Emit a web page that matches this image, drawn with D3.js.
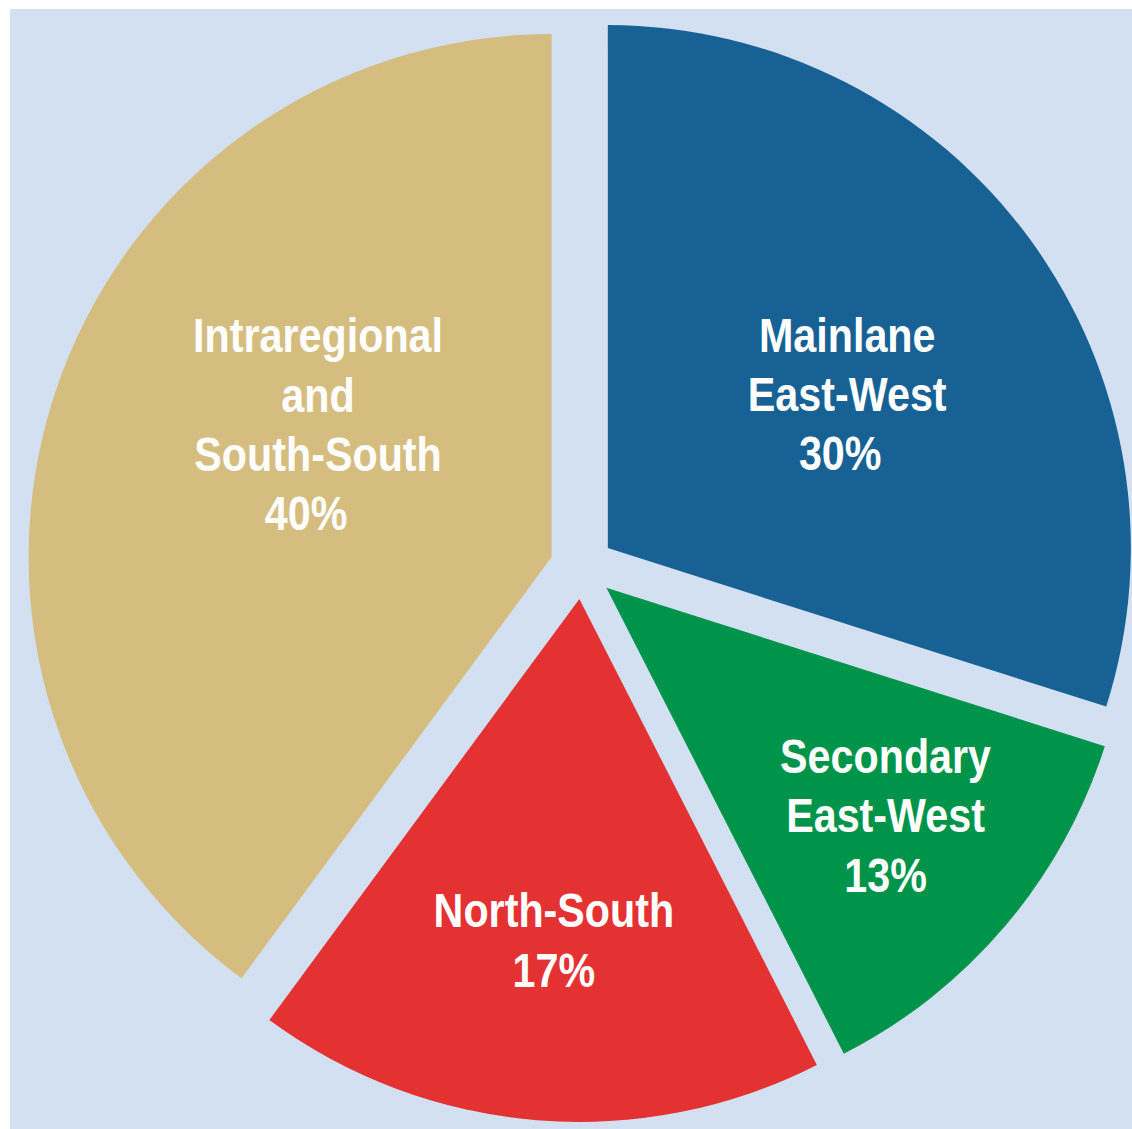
<!DOCTYPE html>
<html>
<head>
<meta charset="utf-8">
<script src="https://cdn.jsdelivr.net/npm/d3@7/dist/d3.min.js"></script>
<style>
  html, body { margin: 0; padding: 0; background: #ffffff; }
  svg { display: block; }
  .lbl { font-family: "Liberation Sans", Arial, sans-serif; font-weight: 700; fill: #ffffff; }
</style>
</head>
<body>
<div id="chart"></div>
<script>
// ---- data ----
const categories = ["Mainlane East-West", "Secondary East-West", "North-South", "Intraregional and South-South"];
const labelLines = [["Mainlane", "East-West"], ["Secondary", "East-West"], ["North-South"], ["Intraregional", "and", "South-South"]];
const values = [29.9, 12.6, 17.6, 39.9];
// percentages as printed on the chart
const pctLabels = ["30%", "13%", "17%", "40%"];
const colors = ["#176195", "#00944a", "#e43132", "#d5bd7f"];

// ---- layout ----
const W = 1132, H = 1129;
const cx = 582, cy = 567, R = 523, explode = 32;
const fontSize = 48, lineH = 59.3, capH = 35, condense = 0.86;
// label placement per slice: angular shift (deg) from bisector, radius factor (from exploded apex),
// and a small horizontal nudge for the percentage line
const labelPlace = [
  {da: 3.3, k: 0.545, pctDx: -7},
  {da: -1.2, k: 0.688, pctDx: 0},
  {da: -0.4, k: 0.653, pctDx: 0},
  {da: 11.5, k: 0.514, pctDx: -12}
];

const svg = d3.select("#chart").append("svg").attr("width", W).attr("height", H);
svg.append("rect").attr("x", 10).attr("y", 9).attr("width", W - 10).attr("height", H - 9).attr("fill", "#d3e0f2");

const pie = d3.pie().sort(null).value(d => d)(values);
const arc = d3.arc().innerRadius(0).outerRadius(R);

const g = svg.append("g").attr("transform", `translate(${cx},${cy})`);

const slices = g.selectAll("g.slice").data(pie).join("g")
  .attr("class", "slice")
  .attr("transform", d => {
    const a = (d.startAngle + d.endAngle) / 2;
    return `translate(${explode * Math.sin(a)},${-explode * Math.cos(a)})`;
  });

slices.append("path").attr("d", arc).attr("fill", (d, i) => colors[i]);

slices.each(function(d, i) {
  const p = labelPlace[i];
  const a = (d.startAngle + d.endAngle) / 2 + p.da * Math.PI / 180;
  const lr = R * p.k;
  const x = lr * Math.sin(a), y = -lr * Math.cos(a);
  const lines = labelLines[i].concat([pctLabels[i]]);
  const n = lines.length;
  const y0 = y + capH / 2 - (n - 1) * lineH / 2;
  const t = d3.select(this).append("g")
    .attr("transform", `translate(${x},0) scale(${condense},1)`)
    .append("text").attr("class", "lbl")
    .attr("text-anchor", "middle").attr("font-size", fontSize);
  lines.forEach((s, j) => {
    const dx = (j === n - 1) ? p.pctDx / condense : 0;
    t.append("tspan").attr("x", dx).attr("y", y0 + j * lineH).text(s);
  });
});
</script>
</body>
</html>
